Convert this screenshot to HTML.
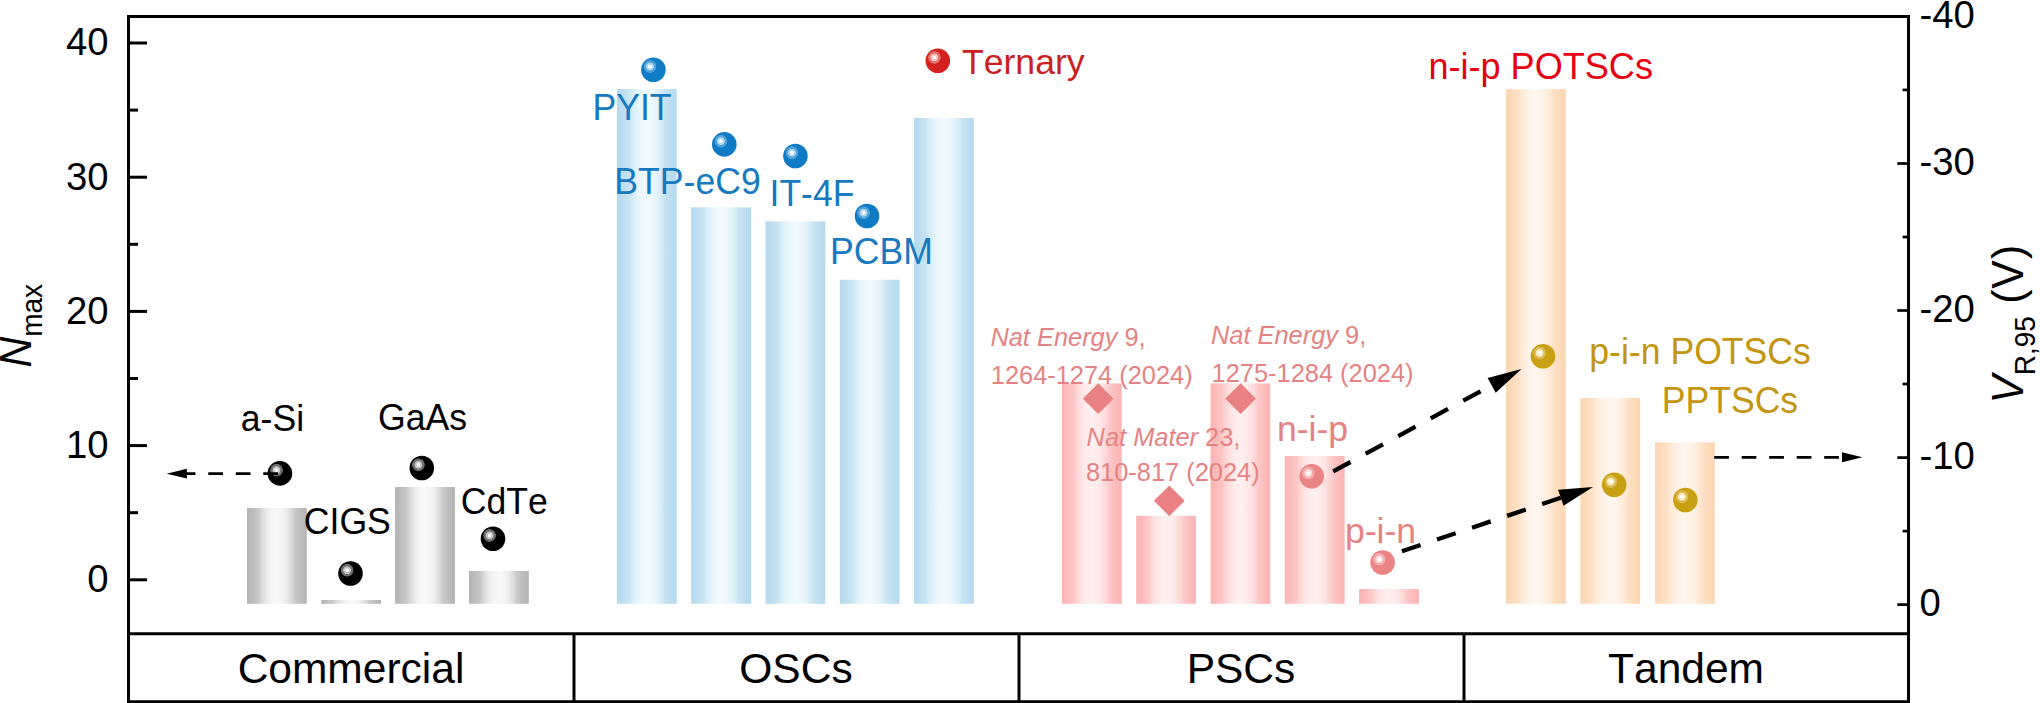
<!DOCTYPE html>
<html lang="en"><head><meta charset="utf-8"><title>Nmax / VR,95 chart</title>
<style>
html,body{margin:0;padding:0;background:#fff;}
body{width:2040px;height:703px;overflow:hidden;}
svg{display:block;}
text{font-family:"Liberation Sans",Arial,Helvetica,sans-serif;font-kerning:none;}
.t38{font-size:38.3px;fill:#000;}
.t42{font-size:42.5px;fill:#000;}
.t35{font-size:35.6px;}
.cit{font-size:25.4px;fill:#e58383;}
.blue{fill:#1779bf;}
.pink{fill:#e58383;}
.gold{fill:#c49510;}
.red{fill:#e60012;}
.tern{fill:#c9211e;}
</style></head><body>
<svg width="2040" height="703" viewBox="0 0 2040 703">
<defs>
<linearGradient id="gGrey" x1="0" y1="0" x2="1" y2="0"><stop offset="0.000" stop-color="#b3b3b3"/><stop offset="0.100" stop-color="#bdbdbd"/><stop offset="0.196" stop-color="#c9c9c9"/><stop offset="0.260" stop-color="#dcdcdc"/><stop offset="0.340" stop-color="#ececec"/><stop offset="0.415" stop-color="#f5f5f5"/><stop offset="0.500" stop-color="#f9f9f9"/><stop offset="0.585" stop-color="#f5f5f5"/><stop offset="0.660" stop-color="#ececec"/><stop offset="0.740" stop-color="#dcdcdc"/><stop offset="0.804" stop-color="#c9c9c9"/><stop offset="0.900" stop-color="#bdbdbd"/><stop offset="1.000" stop-color="#b3b3b3"/></linearGradient>
<linearGradient id="gBlue" x1="0" y1="0" x2="1" y2="0"><stop offset="0.000" stop-color="#b4d9ee"/><stop offset="0.100" stop-color="#bddef0"/><stop offset="0.196" stop-color="#c7e4f3"/><stop offset="0.260" stop-color="#d7ecf7"/><stop offset="0.340" stop-color="#e5f4fb"/><stop offset="0.415" stop-color="#ecf8fd"/><stop offset="0.500" stop-color="#f0fafe"/><stop offset="0.585" stop-color="#ecf8fd"/><stop offset="0.660" stop-color="#e5f4fb"/><stop offset="0.740" stop-color="#d7ecf7"/><stop offset="0.804" stop-color="#c7e4f3"/><stop offset="0.900" stop-color="#bddef0"/><stop offset="1.000" stop-color="#b4d9ee"/></linearGradient>
<linearGradient id="gPink" x1="0" y1="0" x2="1" y2="0"><stop offset="0.000" stop-color="#fcb3b3"/><stop offset="0.100" stop-color="#fcbcbc"/><stop offset="0.196" stop-color="#fdc7c7"/><stop offset="0.260" stop-color="#fdd6d6"/><stop offset="0.340" stop-color="#fee4e4"/><stop offset="0.415" stop-color="#feecec"/><stop offset="0.500" stop-color="#fef0f0"/><stop offset="0.585" stop-color="#feecec"/><stop offset="0.660" stop-color="#fee4e4"/><stop offset="0.740" stop-color="#fdd6d6"/><stop offset="0.804" stop-color="#fdc7c7"/><stop offset="0.900" stop-color="#fcbcbc"/><stop offset="1.000" stop-color="#fcb3b3"/></linearGradient>
<linearGradient id="gOrng" x1="0" y1="0" x2="1" y2="0"><stop offset="0.000" stop-color="#fdd6b2"/><stop offset="0.100" stop-color="#fddbbb"/><stop offset="0.196" stop-color="#fee0c5"/><stop offset="0.260" stop-color="#fee9d5"/><stop offset="0.340" stop-color="#fff0e3"/><stop offset="0.415" stop-color="#fff4ea"/><stop offset="0.500" stop-color="#fff6ee"/><stop offset="0.585" stop-color="#fff4ea"/><stop offset="0.660" stop-color="#fff0e3"/><stop offset="0.740" stop-color="#fee9d5"/><stop offset="0.804" stop-color="#fee0c5"/><stop offset="0.900" stop-color="#fddbbb"/><stop offset="1.000" stop-color="#fdd6b2"/></linearGradient>
<radialGradient id="bBlack" cx="0.362" cy="0.368" r="0.268" fx="0.362" fy="0.368"><stop offset="0" stop-color="#ffffff"/><stop offset="0.22" stop-color="#ffffff"/><stop offset="0.33" stop-color="#c4c4c4"/><stop offset="0.54" stop-color="#c4c4c4"/><stop offset="0.64" stop-color="#6e6e6e"/><stop offset="0.90" stop-color="#6e6e6e"/><stop offset="1" stop-color="#000000"/></radialGradient>
<radialGradient id="bBlue" cx="0.362" cy="0.368" r="0.268" fx="0.362" fy="0.368"><stop offset="0" stop-color="#ffffff"/><stop offset="0.22" stop-color="#ffffff"/><stop offset="0.33" stop-color="#b0d7f0"/><stop offset="0.54" stop-color="#b0d7f0"/><stop offset="0.64" stop-color="#4fa2d8"/><stop offset="0.90" stop-color="#4fa2d8"/><stop offset="1" stop-color="#0f7bc4"/></radialGradient>
<radialGradient id="bRed" cx="0.362" cy="0.368" r="0.268" fx="0.362" fy="0.368"><stop offset="0" stop-color="#ffffff"/><stop offset="0.22" stop-color="#ffffff"/><stop offset="0.33" stop-color="#f5c2c0"/><stop offset="0.54" stop-color="#f5c2c0"/><stop offset="0.64" stop-color="#e3706c"/><stop offset="0.90" stop-color="#e3706c"/><stop offset="1" stop-color="#d2211f"/></radialGradient>
<radialGradient id="bPink" cx="0.362" cy="0.368" r="0.268" fx="0.362" fy="0.368"><stop offset="0" stop-color="#ffffff"/><stop offset="0.22" stop-color="#ffffff"/><stop offset="0.33" stop-color="#fbdcdc"/><stop offset="0.54" stop-color="#fbdcdc"/><stop offset="0.64" stop-color="#f3aaaa"/><stop offset="0.90" stop-color="#f3aaaa"/><stop offset="1" stop-color="#ec8384"/></radialGradient>
<radialGradient id="bGold" cx="0.362" cy="0.368" r="0.268" fx="0.362" fy="0.368"><stop offset="0" stop-color="#ffffff"/><stop offset="0.22" stop-color="#ffffff"/><stop offset="0.33" stop-color="#f5e9c0"/><stop offset="0.54" stop-color="#f5e9c0"/><stop offset="0.64" stop-color="#dcbb52"/><stop offset="0.90" stop-color="#dcbb52"/><stop offset="1" stop-color="#c9a012"/></radialGradient>
</defs>
<rect x="0" y="0" width="2040" height="703" fill="#ffffff"/>
<g id="bars">
<rect x="247.0" y="508.0" width="59.8" height="95.8" fill="url(#gGrey)"/>
<rect x="321.3" y="600.0" width="59.8" height="3.8" fill="url(#gGrey)"/>
<rect x="395.1" y="487.0" width="59.8" height="116.8" fill="url(#gGrey)"/>
<rect x="469.0" y="571.0" width="59.8" height="32.8" fill="url(#gGrey)"/>
<rect x="616.9" y="89.0" width="59.8" height="514.8" fill="url(#gBlue)"/>
<rect x="691.2" y="207.3" width="59.8" height="396.5" fill="url(#gBlue)"/>
<rect x="765.5" y="221.3" width="59.8" height="382.5" fill="url(#gBlue)"/>
<rect x="839.8" y="279.8" width="59.8" height="324.0" fill="url(#gBlue)"/>
<rect x="914.1" y="118.0" width="59.8" height="485.8" fill="url(#gBlue)"/>
<rect x="1061.9" y="383.4" width="59.8" height="220.4" fill="url(#gPink)"/>
<rect x="1136.2" y="515.8" width="59.8" height="88.0" fill="url(#gPink)"/>
<rect x="1210.5" y="383.4" width="59.8" height="220.4" fill="url(#gPink)"/>
<rect x="1284.8" y="456.0" width="59.8" height="147.8" fill="url(#gPink)"/>
<rect x="1359.1" y="589.0" width="59.8" height="14.8" fill="url(#gPink)"/>
<rect x="1506.0" y="89.1" width="59.8" height="514.7" fill="url(#gOrng)"/>
<rect x="1580.3" y="398.0" width="59.8" height="205.8" fill="url(#gOrng)"/>
<rect x="1655.0" y="442.4" width="59.8" height="161.4" fill="url(#gOrng)"/>
</g>
<g id="axes" stroke="#000" stroke-width="3" fill="none" stroke-linecap="butt">
<path d="M128.5 703 V16.5 H1908.5 V703"/>
<path d="M127 633.8 H1910"/>
<path d="M127 701.7 H1910"/>
<path d="M574 633.8 V701.7"/>
<path d="M1019 633.8 V701.7"/>
<path d="M1464 633.8 V701.7"/>
<path d="M130 43.0 H147"/>
<path d="M130 177.2 H147"/>
<path d="M130 311.4 H147"/>
<path d="M130 445.6 H147"/>
<path d="M130 579.8 H147"/>
<path d="M130 110.1 H138"/>
<path d="M130 244.3 H138"/>
<path d="M130 378.5 H138"/>
<path d="M130 512.7 H138"/>
<path d="M1907 163.5 H1897.3" stroke-width="2.7"/>
<path d="M1907 310.5 H1897.3" stroke-width="2.7"/>
<path d="M1907 457.6 H1897.3" stroke-width="2.7"/>
<path d="M1907 604.6 H1897.3" stroke-width="2.7"/>
<path d="M1907 89.9 H1902.6" stroke-width="2.7"/>
<path d="M1907 237.0 H1902.6" stroke-width="2.7"/>
<path d="M1907 384.0 H1902.6" stroke-width="2.7"/>
<path d="M1907 531.1 H1902.6" stroke-width="2.7"/>
</g>
<g class="t38" text-anchor="end">
<text x="108.5" y="55.3">40</text>
<text x="108.5" y="189.5">30</text>
<text x="108.5" y="323.7">20</text>
<text x="108.5" y="457.9">10</text>
<text x="108.5" y="592.1">0</text>
</g>
<g class="t38" text-anchor="start">
<text x="1919.5" y="27.9">-40</text>
<text x="1919.5" y="175.0">-30</text>
<text x="1919.5" y="322.0">-20</text>
<text x="1919.5" y="469.1">-10</text>
<text x="1919.5" y="616.1">0</text>
</g>
<text class="t42" transform="translate(30.8 367.5) rotate(-90) scale(1 1.03)"><tspan font-style="italic">N</tspan><tspan font-size="28" dy="11">max</tspan></text>
<text class="t42" transform="translate(2023.2 403.6) rotate(-90) scale(1 1.03)"><tspan font-style="italic">V</tspan><tspan font-size="28" dy="11">R,95</tspan><tspan dy="-11" dx="0.5 0 1 1.3"> (V)</tspan></text>
<g class="t42" text-anchor="middle">
<text x="351" y="682.7">Commercial</text>
<text x="796" y="682.7">OSCs</text>
<text x="1241" y="682.7">PSCs</text>
<text x="1686" y="682.7">Tandem</text>
</g>
<g class="t35">
<text transform="translate(240.8 430.8) scale(1 1.013)" fill="#000">a-Si</text>
<text transform="translate(378.0 430.4) scale(1 1.02)" fill="#000">GaAs</text>
<text transform="translate(303.8 534.0) scale(1 1.04)" fill="#000">CIGS</text>
<text transform="translate(460.8 514.0) scale(1 1.02)" fill="#000">CdTe</text>
<text class="blue" transform="translate(592.5 119.5) scale(1 1.04)">PYIT</text>
<text class="blue" transform="translate(614.3 194.2) scale(1 1.033)">BTP-eC9</text>
<text class="blue" transform="translate(769.5 206.3) scale(1 1.04)">IT-4F</text>
<text class="blue" transform="translate(830.1 263.5) scale(1 1.04)">PCBM</text>
<text class="tern" transform="translate(962.0 74.4) scale(1 1.006)">Ternary</text>
<text class="pink" x="1276.9" y="440.7">n-i-p</text>
<text class="pink" x="1344.9" y="542.6">p-i-n</text>
<text class="red" font-size="36.1" transform="translate(1428.4 78.8) scale(1 1.022)">n-i-p POTSCs</text>
<text class="gold" transform="translate(1589.3 363.7) scale(1 1.022)">p-i-n POTSCs</text>
<text class="gold" transform="translate(1661.7 412.5) scale(1 1.033)">PPTSCs</text>
</g>
<g class="cit">
<text x="990.4" y="345.6"><tspan font-style="italic">Nat Energy</tspan> 9,</text>
<text x="990.8" y="383.8">1264-1274 (2024)</text>
<text x="1211.0" y="343.6"><tspan font-style="italic">Nat Energy</tspan> 9,</text>
<text x="1211.6" y="381.8">1275-1284 (2024)</text>
<text x="1086.6" y="445.6"><tspan font-style="italic">Nat Mater</tspan> 23,</text>
<text x="1086.0" y="480.6">810-817 (2024)</text>
</g>
<g id="balls">
<circle cx="279.9" cy="473.4" r="12.3" fill="url(#bBlack)"/>
<circle cx="350.5" cy="573.5" r="12.3" fill="url(#bBlack)"/>
<circle cx="421.8" cy="468.0" r="12.3" fill="url(#bBlack)"/>
<circle cx="493.0" cy="538.7" r="12.3" fill="url(#bBlack)"/>
<circle cx="653.4" cy="69.8" r="12.3" fill="url(#bBlue)"/>
<circle cx="724.3" cy="144.4" r="12.3" fill="url(#bBlue)"/>
<circle cx="795.4" cy="156.0" r="12.3" fill="url(#bBlue)"/>
<circle cx="867.0" cy="216.0" r="12.3" fill="url(#bBlue)"/>
<circle cx="937.8" cy="60.7" r="12.3" fill="url(#bRed)"/>
<circle cx="1311.7" cy="476.3" r="12.3" fill="url(#bPink)"/>
<circle cx="1382.6" cy="562.5" r="12.3" fill="url(#bPink)"/>
<circle cx="1543.0" cy="356.3" r="12.3" fill="url(#bGold)"/>
<circle cx="1614.2" cy="484.8" r="12.3" fill="url(#bGold)"/>
<circle cx="1685.4" cy="500.0" r="12.3" fill="url(#bGold)"/>
</g>
<g id="diamonds" fill="#e98081">
<path d="M1098.2 383.3 L1113.6 398.7 L1098.2 414.1 L1082.8 398.7 Z"/>
<path d="M1169.3 485.4 L1184.7 500.8 L1169.3 516.2 L1153.9 500.8 Z"/>
<path d="M1240.6 383.3 L1256.0 398.7 L1240.6 414.1 L1225.2 398.7 Z"/>
</g>
<g id="arrows" stroke="#000" fill="#000">
<path d="M278 473.7 H181" stroke-width="2.8" stroke-dasharray="14.7 12.8" fill="none"/>
<path d="M166.6 473.7 L186.9 468.8 L186.9 478.6 Z" stroke="none"/>
<path d="M1714.2 457.3 H1845" stroke-width="2.8" stroke-dasharray="14.7 12.8" fill="none"/>
<path d="M1862.4 457.3 L1842 452.3 L1842 462.3 Z" stroke="none"/>
<path d="M1333.2 471.4 L1492.9 384.6" stroke-width="4.3" stroke-dasharray="19.7 17.3" fill="none"/>
<path d="M1521.5 369.1 L1495.7 392.8 L1487.6 377.9 Z" stroke="none"/>
<path d="M1401.9 551.3 L1562.2 497.3" stroke-width="4.3" stroke-dasharray="19.7 17.3" fill="none"/>
<path d="M1593.0 486.9 L1563.5 505.8 L1558.1 489.7 Z" stroke="none"/>
</g>
</svg>
</body></html>
